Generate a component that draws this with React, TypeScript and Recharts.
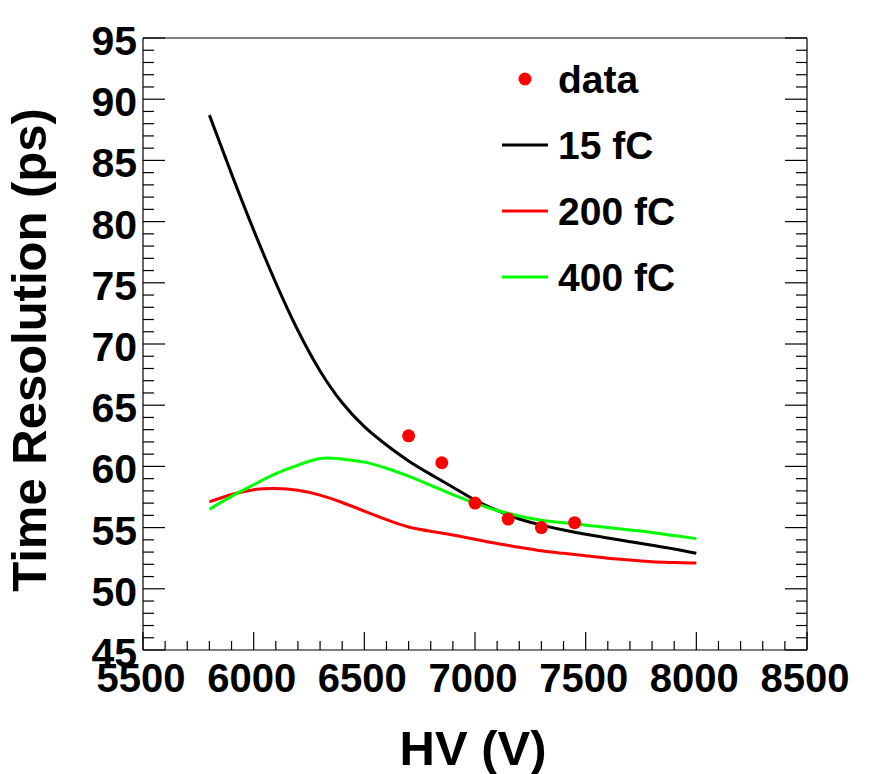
import React from "react";
import { ComposedChart, Line, Scatter, XAxis, YAxis, Legend } from "recharts";

// simulated curves, sampled every 100 V
const HV = [
  5800, 5900, 6000, 6100, 6200, 6300, 6400, 6500, 6600, 6700, 6800, 6900,
  7000, 7100, 7200, 7300, 7400, 7500, 7600, 7700, 7800, 7900, 8000,
];
const RES_15FC = [
  88.7, 83.9, 79.3, 75.0, 71.1, 67.8, 65.2, 63.25, 61.75, 60.45, 59.35, 58.3,
  57.25, 56.4, 55.7, 55.2, 54.8, 54.45, 54.15, 53.85, 53.55, 53.25, 52.9,
];
const RES_200FC = [
  57.1, 57.7, 58.1, 58.2, 58.05, 57.65, 57.05, 56.35, 55.65, 55.05, 54.7, 54.4,
  54.05, 53.7, 53.4, 53.1, 52.9, 52.7, 52.5, 52.35, 52.2, 52.15, 52.1,
];
const RES_400FC = [
  56.5, 57.55, 58.5, 59.4, 60.1, 60.65, 60.6, 60.35, 59.85, 59.2, 58.45, 57.7,
  57.0, 56.4, 55.95, 55.6, 55.4, 55.2, 55.0, 54.8, 54.6, 54.35, 54.1,
];

// measured points
const DATA_HV = [6700, 6850, 7000, 7150, 7300, 7450];
const DATA_RES = [62.5, 60.3, 57.0, 55.7, 55.0, 55.4];

const X_MAJOR = [5500, 6000, 6500, 7000, 7500, 8000, 8500];
const X_MINOR = [
  5500, 5600, 5700, 5800, 5900, 6000, 6100, 6200, 6300, 6400, 6500, 6600,
  6700, 6800, 6900, 7000, 7100, 7200, 7300, 7400, 7500, 7600, 7700, 7800,
  7900, 8000, 8100, 8200, 8300, 8400, 8500,
];
const Y_MAJOR = [45, 50, 55, 60, 65, 70, 75, 80, 85, 90, 95];
const Y_MINOR = [
  45, 46, 47, 48, 49, 50, 51, 52, 53, 54, 55, 56, 57, 58, 59, 60, 61, 62, 63,
  64, 65, 66, 67, 68, 69, 70, 71, 72, 73, 74, 75, 76, 77, 78, 79, 80, 81, 82,
  83, 84, 85, 86, 87, 88, 89, 90, 91, 92, 93, 94, 95,
];

const LEGEND = [
  { label: "data", color: "#ff0000", kind: "dot" },
  { label: "15 fC", color: "#000000", kind: "line" },
  { label: "200 fC", color: "#ff0000", kind: "line" },
  { label: "400 fC", color: "#00ff00", kind: "line" },
];

const curve15 = HV.map((hv, i) => ({ hv, res: RES_15FC[i] }));
const curve200 = HV.map((hv, i) => ({ hv, res: RES_200FC[i] }));
const curve400 = HV.map((hv, i) => ({ hv, res: RES_400FC[i] }));
const points = DATA_HV.map((hv, i) => ({ hv, res: DATA_RES[i] }));

const FONT = "'Liberation Sans', Arial, Helvetica, sans-serif";
const LW = 1.2;

// ticks point into the frame, ROOT style; labels only on the outer axes
const makeTick = (side: "bottom" | "top" | "left" | "right", majors: number[], labels: boolean) =>
  ({ x, y, payload }: any) => {
    const major = majors.includes(payload.value);
    const horiz = side === "bottom" || side === "top";
    const len = horiz ? (major ? 18 : 9) : major ? 22 : 11;
    let line;
    if (side === "bottom") line = <line x1={x} x2={x} y1={y} y2={y - len} />;
    else if (side === "top") line = <line x1={x} x2={x} y1={y} y2={y + len} />;
    else if (side === "left") line = <line x1={x} x2={x + len} y1={y} y2={y} />;
    else line = <line x1={x} x2={x - len} y1={y} y2={y} />;
    return (
      <g stroke="#000" strokeWidth={LW}>
        {line}
        {labels && major && side === "bottom" && (
          <text x={x - 2} y={y + 42} textAnchor="middle" fontFamily={FONT} fontWeight="bold" fontSize={40} fill="#000" stroke="none">
            {payload.value}
          </text>
        )}
        {labels && major && side === "left" && (
          <text x={x - 6} y={y + 17} textAnchor="end" fontFamily={FONT} fontWeight="bold" fontSize={41} fill="#000" stroke="none">
            {payload.value}
          </text>
        )}
      </g>
    );
  };

const BottomTick = makeTick("bottom", X_MAJOR, true);
const TopTick = makeTick("top", X_MAJOR, false);
const LeftTick = makeTick("left", Y_MAJOR, true);
const RightTick = makeTick("right", Y_MAJOR, false);

const XTitle = (props: any) => {
  const vb = props.viewBox || { x: 143, y: 650, width: 663 };
  return (
    <text x={vb.x + vb.width / 2 - 2} y={vb.y + 115} textAnchor="middle" fontFamily={FONT} fontWeight="bold" fontSize={49} fill="#000">
      HV (V)
    </text>
  );
};

const YTitle = (props: any) => {
  const vb = props.viewBox || { x: 143, y: 38, height: 612 };
  const cx = 46;
  const cy = vb.y + vb.height / 2 + 6;
  return (
    <text x={cx} y={cy} transform={`rotate(-90, ${cx}, ${cy})`} textAnchor="middle" fontFamily={FONT} fontWeight="bold" fontSize={49} fill="#000">
      Time Resolution (ps)
    </text>
  );
};

const LegendBox = () => (
  <svg width={200} height={260} style={{ overflow: "visible" }}>
    {LEGEND.map((item, i) => {
      const cy = 29 + i * 66;
      return (
        <g key={item.label}>
          {item.kind === "dot" ? (
            <circle cx={45} cy={cy} r={6.5} fill={item.color} />
          ) : (
            <line x1={22} x2={68} y1={cy} y2={cy} stroke={item.color} strokeWidth={3} />
          )}
          <text x={78} y={cy + 14} fontFamily={FONT} fontWeight="bold" fontSize={39} fill="#000">
            {item.label}
          </text>
        </g>
      );
    })}
  </svg>
);

const Dot = (props: any) => <circle cx={props.cx} cy={props.cy} r={6.5} fill="#ff0000" />;

export default function App() {
  const axisLine = { stroke: "#000", strokeWidth: LW };
  const common = { type: "number" as const, allowDataOverflow: true, interval: 0, tickSize: 0, tickMargin: 0, tickLine: false, axisLine };
  return (
    <div style={{ width: 896, height: 774, background: "#fff", position: "relative" }}>
      <style>{"html,body{margin:0;padding:0;overflow:hidden;background:#fff}"}</style>
      <ComposedChart width={896} height={774} margin={{ top: 37, right: 88, bottom: 123, left: 142 }}>
        <XAxis xAxisId="x" dataKey="hv" domain={[5500, 8500]} ticks={X_MINOR} height={1} tick={BottomTick} label={XTitle} {...common} />
        <XAxis xAxisId="top" orientation="top" domain={[5500, 8500]} ticks={X_MINOR} height={1} tick={TopTick} {...common} />
        <YAxis yAxisId="y" domain={[45, 95]} ticks={Y_MINOR} width={1} tick={LeftTick} label={YTitle} {...common} />
        <YAxis yAxisId="right" orientation="right" domain={[45, 95]} ticks={Y_MINOR} width={1} tick={RightTick} {...common} />

        <Line xAxisId="x" yAxisId="y" data={curve15} dataKey="res" type="natural" stroke="#000000" strokeWidth={3}
          dot={false} activeDot={false} isAnimationActive={false} name="15 fC" />
        <Line xAxisId="x" yAxisId="y" data={curve200} dataKey="res" type="natural" stroke="#ff0000" strokeWidth={3}
          dot={false} activeDot={false} isAnimationActive={false} name="200 fC" />
        <Line xAxisId="x" yAxisId="y" data={curve400} dataKey="res" type="natural" stroke="#00ff00" strokeWidth={3}
          dot={false} activeDot={false} isAnimationActive={false} name="400 fC" />
        <Scatter xAxisId="x" yAxisId="y" data={points} dataKey="res" fill="#ff0000" shape={Dot}
          isAnimationActive={false} name="data" />

        <Legend
          layout="horizontal"
          verticalAlign="middle"
          align="center"
          content={LegendBox}
          wrapperStyle={{ left: 480, top: 50, width: 200, height: 260 }}
        />
      </ComposedChart>
    </div>
  );
}
